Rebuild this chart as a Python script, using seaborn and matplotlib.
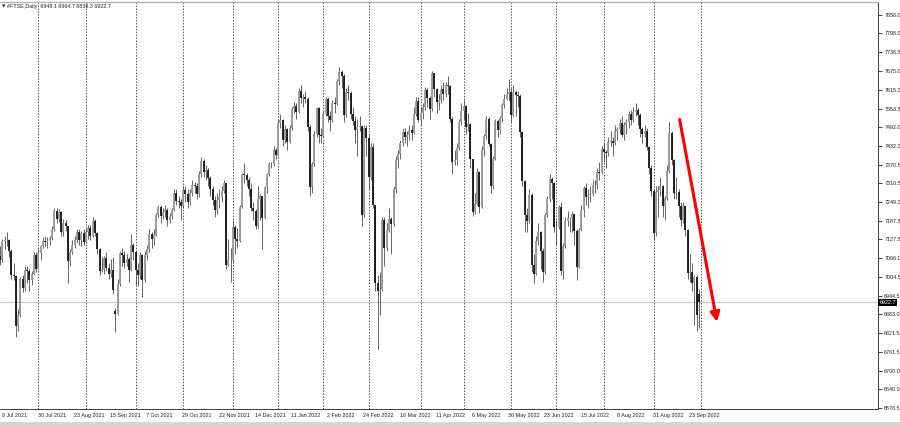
import numpy as np
import pandas as pd
import matplotlib
matplotlib.use("Agg")
import matplotlib.pyplot as plt
import matplotlib.transforms as mtrans
from matplotlib.patches import Rectangle
import seaborn as sns

# #FTSE daily bars, 8 Jul 2021 .. 30 Sep 2022
opens = [
    7075, 7060, 7122, 7125, 7124, 7091, 7012, 7008, 6844, 6881, 7000, 6969, 7028, 7025, 6996, 7016, 7078,
    7032, 7082, 7105, 7123, 7120, 7122, 7132, 7161, 7220, 7193, 7218, 7153, 7181, 7170, 7058, 7087, 7109, 7125, 7150, 7125, 7148,
    7119, 7150, 7164, 7138, 7187, 7149, 7095, 7024, 7029, 7068, 7034, 7016, 7027, 6895, 6885, 6981, 7083, 7078, 7051, 7063, 7028, 7108,
    7086, 7027, 7011, 7077, 6995, 7078, 7095, 7146, 7130, 7141, 7207, 7234, 7203, 7217, 7223, 7190, 7204, 7222, 7277, 7253, 7249,
    7237, 7288, 7274, 7248, 7279, 7304, 7300, 7274, 7340, 7384, 7348, 7352, 7326, 7291, 7255, 7223, 7255, 7266, 7286, 7310, 7044, 7059,
    7059, 7168, 7129, 7122, 7232, 7340, 7337, 7321, 7291, 7231, 7219, 7171, 7260, 7269, 7198, 7297, 7341, 7373, 7372, 7420,
    7403, 7505, 7517, 7450, 7486, 7445, 7491, 7552, 7563, 7543, 7612, 7589, 7590, 7585, 7494, 7297, 7372, 7470, 7554, 7466,
    7464, 7535, 7583, 7529, 7516, 7573, 7567, 7643, 7672, 7661, 7531, 7608, 7603, 7537, 7513, 7484, 7494, 7498, 7207, 7489,
    7458, 7330, 7429, 7238, 6987, 6959, 6964, 7191, 7099, 7156, 7193, 7176, 7291, 7385, 7405, 7442, 7476, 7460, 7467, 7483, 7474, 7537, 7578,
    7516, 7538, 7559, 7613, 7587, 7551, 7669, 7618, 7576, 7580, 7616, 7601, 7629, 7627, 7521, 7380, 7386, 7425, 7509,
    7544, 7561, 7493, 7503, 7388, 7216, 7243, 7348, 7233, 7418, 7464, 7518, 7438, 7302, 7390, 7514, 7484, 7522, 7565, 7585, 7600,
    7607, 7533, 7608, 7599, 7593, 7476, 7317, 7206, 7187, 7273, 7045, 7016, 7121, 7152, 7089, 7020, 7208, 7258, 7323, 7312,
    7169, 7168, 7232, 7025, 7107, 7189, 7196, 7196, 7209, 7156, 7039, 7159, 7223, 7296, 7264, 7271, 7276, 7306, 7306, 7348, 7345,
    7423, 7413, 7409, 7445, 7448, 7440, 7482, 7488, 7507, 7466, 7501, 7510, 7536, 7516, 7542, 7550, 7534, 7488, 7471, 7479, 7427, 7361,
    7284, 7148, 7281, 7287, 7300, 7237, 7262, 7351, 7473, 7385, 7277, 7282, 7237, 7192, 7237, 7159, 7019, 7021, 6984, 7005, 6948.1,
]
highs = [
    7105, 7128, 7140, 7150, 7130, 7095, 7050, 7010, 6900, 7005, 7010, 7040, 7040, 7030, 7025, 7085, 7085,
    7100, 7110, 7135, 7140, 7135, 7140, 7170, 7230, 7230, 7225, 7220, 7195, 7190, 7170, 7095, 7125, 7140, 7160, 7160, 7155, 7160,
    7165, 7175, 7175, 7200, 7195, 7150, 7100, 7070, 7075, 7085, 7050, 7065, 7070, 6905, 7000, 7090, 7100, 7090, 7080, 7070, 7145, 7115,
    7090, 7050, 7085, 7080, 7090, 7110, 7160, 7150, 7160, 7215, 7240, 7240, 7230, 7240, 7230, 7215, 7230, 7290, 7290, 7270, 7260,
    7300, 7300, 7290, 7290, 7320, 7315, 7310, 7350, 7395, 7390, 7370, 7360, 7335, 7300, 7270, 7280, 7290, 7300, 7320, 7310, 7130, 7100,
    7190, 7175, 7165, 7240, 7345, 7375, 7345, 7330, 7310, 7250, 7225, 7300, 7275, 7270, 7300, 7345, 7380, 7380, 7430, 7425,
    7520, 7535, 7520, 7500, 7490, 7500, 7560, 7575, 7570, 7620, 7630, 7600, 7610, 7590, 7500, 7380, 7480, 7560, 7560, 7490,
    7545, 7590, 7590, 7545, 7580, 7590, 7650, 7690, 7680, 7665, 7620, 7630, 7610, 7560, 7530, 7520, 7530, 7500, 7500, 7500,
    7470, 7440, 7440, 7240, 7010, 7020, 7200, 7200, 7180, 7230, 7200, 7300, 7400, 7420, 7450, 7490, 7490, 7480, 7500, 7500, 7560, 7590, 7590,
    7560, 7570, 7625, 7620, 7595, 7675, 7670, 7620, 7600, 7630, 7640, 7640, 7660, 7630, 7525, 7420, 7440, 7520, 7570,
    7580, 7565, 7540, 7505, 7390, 7280, 7360, 7350, 7430, 7470, 7530, 7525, 7440, 7400, 7520, 7520, 7530, 7570, 7600, 7620, 7650,
    7620, 7630, 7615, 7610, 7600, 7480, 7320, 7230, 7290, 7280, 7080, 7140, 7180, 7155, 7100, 7215, 7270, 7340, 7330, 7315,
    7190, 7240, 7250, 7115, 7200, 7220, 7200, 7220, 7210, 7160, 7165, 7240, 7300, 7310, 7290, 7300, 7320, 7320, 7360, 7380, 7430,
    7440, 7420, 7460, 7480, 7460, 7500, 7495, 7520, 7530, 7510, 7520, 7545, 7550, 7560, 7570, 7555, 7540, 7495, 7500, 7490, 7430, 7370,
    7290, 7300, 7300, 7330, 7305, 7270, 7370, 7510, 7480, 7390, 7330, 7290, 7250, 7250, 7240, 7160, 7080, 7050, 7010, 7010, 6964.7,
]
lows = [
    7045, 7055, 7095, 7105, 7070, 7000, 6995, 6810, 6830, 6875, 6955, 6960, 6985, 6960, 6980, 7010, 7020,
    7030, 7060, 7100, 7105, 7100, 7110, 7125, 7155, 7180, 7185, 7140, 7140, 7155, 6985, 7040, 7080, 7100, 7115, 7110, 7105, 7110,
    7115, 7130, 7125, 7135, 7140, 7080, 7010, 7020, 7015, 7025, 7000, 7005, 6950, 6825, 6880, 6975, 7040, 7035, 7040, 6990, 7025, 7060,
    6980, 6975, 7000, 6940, 6990, 7060, 7085, 7100, 7110, 7140, 7200, 7180, 7195, 7200, 7170, 7180, 7195, 7220, 7240, 7230, 7190,
    7230, 7250, 7230, 7240, 7270, 7280, 7260, 7265, 7330, 7330, 7320, 7300, 7270, 7240, 7200, 7210, 7230, 7250, 7280, 7030, 7040, 6990,
    7055, 7080, 7100, 7120, 7230, 7310, 7300, 7270, 7220, 7190, 7160, 7165, 7190, 7095, 7195, 7280, 7335, 7360, 7365, 7390,
    7400, 7490, 7430, 7440, 7420, 7440, 7485, 7540, 7520, 7540, 7570, 7560, 7570, 7480, 7270, 7280, 7365, 7460, 7440, 7440,
    7460, 7530, 7510, 7480, 7510, 7540, 7565, 7630, 7620, 7510, 7525, 7580, 7520, 7500, 7440, 7400, 7480, 7170, 7200, 7400,
    7290, 7320, 7230, 6960, 6770, 6880, 6960, 7040, 7090, 7150, 7080, 7170, 7280, 7360, 7390, 7430, 7440, 7430, 7450, 7450, 7470, 7530, 7510,
    7500, 7520, 7550, 7560, 7520, 7545, 7590, 7540, 7550, 7570, 7580, 7590, 7600, 7510, 7340, 7370, 7370, 7420, 7500,
    7520, 7470, 7480, 7360, 7205, 7210, 7240, 7215, 7230, 7400, 7455, 7430, 7280, 7290, 7385, 7460, 7470, 7510, 7555, 7580, 7580,
    7510, 7530, 7530, 7560, 7460, 7300, 7150, 7150, 7180, 7020, 6985, 7010, 7110, 7030, 6990, 7015, 7200, 7250, 7260, 7150,
    7110, 7160, 7010, 7000, 7100, 7170, 7150, 7150, 7110, 6995, 7035, 7155, 7200, 7240, 7230, 7250, 7270, 7280, 7290, 7320, 7340,
    7380, 7360, 7400, 7430, 7400, 7435, 7450, 7470, 7460, 7450, 7470, 7490, 7500, 7510, 7530, 7500, 7460, 7440, 7460, 7420, 7340, 7270,
    7125, 7140, 7200, 7270, 7200, 7190, 7255, 7345, 7370, 7260, 7260, 7200, 7170, 7180, 7140, 7000, 6990, 6960, 6850, 6830, 6838.3,
]
closes = [
    7060, 7122, 7125, 7124, 7091, 7012, 7008, 6844, 6881, 7000, 6969, 7028, 7025, 6996, 7016, 7078, 7032,
    7082, 7105, 7123, 7120, 7122, 7132, 7161, 7220, 7193, 7218, 7153, 7181, 7170, 7058, 7087, 7109, 7125, 7150, 7125, 7148, 7119,
    7150, 7164, 7138, 7187, 7149, 7095, 7024, 7029, 7068, 7034, 7016, 7027, 6963, 6885, 6981, 7083, 7078, 7051, 7063, 7028, 7108, 7086,
    7027, 7011, 7077, 6995, 7078, 7095, 7146, 7130, 7141, 7207, 7234, 7203, 7217, 7223, 7190, 7204, 7222, 7277, 7253, 7249, 7237,
    7288, 7274, 7248, 7279, 7304, 7300, 7274, 7340, 7384, 7348, 7352, 7326, 7291, 7255, 7223, 7255, 7266, 7286, 7310, 7044, 7059, 7059,
    7168, 7129, 7122, 7232, 7340, 7337, 7321, 7291, 7231, 7219, 7171, 7260, 7269, 7198, 7297, 7341, 7373, 7372, 7420, 7403,
    7505, 7517, 7450, 7486, 7445, 7491, 7552, 7563, 7543, 7612, 7589, 7590, 7585, 7494, 7297, 7372, 7470, 7554, 7466, 7464,
    7535, 7583, 7529, 7516, 7573, 7567, 7643, 7672, 7661, 7531, 7608, 7603, 7537, 7513, 7484, 7494, 7498, 7207, 7489, 7458,
    7330, 7429, 7238, 6987, 6959, 6964, 7191, 7099, 7156, 7193, 7176, 7291, 7385, 7405, 7442, 7476, 7460, 7467, 7483, 7474, 7537, 7578, 7516,
    7538, 7559, 7613, 7587, 7551, 7669, 7618, 7576, 7580, 7616, 7601, 7629, 7627, 7521, 7380, 7386, 7425, 7509, 7544,
    7561, 7493, 7503, 7388, 7216, 7243, 7348, 7233, 7418, 7464, 7518, 7438, 7302, 7390, 7514, 7484, 7522, 7565, 7585, 7600, 7607,
    7533, 7608, 7599, 7593, 7476, 7317, 7206, 7187, 7273, 7045, 7016, 7121, 7152, 7089, 7020, 7208, 7258, 7323, 7312, 7169,
    7168, 7232, 7025, 7107, 7189, 7196, 7196, 7209, 7156, 7039, 7159, 7223, 7296, 7264, 7271, 7276, 7306, 7306, 7348, 7345, 7423,
    7413, 7409, 7445, 7448, 7440, 7482, 7488, 7507, 7466, 7501, 7510, 7536, 7516, 7542, 7550, 7534, 7488, 7471, 7479, 7427, 7361, 7284,
    7148, 7281, 7287, 7300, 7237, 7262, 7351, 7473, 7385, 7277, 7282, 7237, 7192, 7237, 7159, 7019, 7021, 6984, 7005, 6881, 6922.7,
]

# days with no bar in the feed
holidays = ["2021-08-30", "2021-12-27", "2021-12-28", "2021-12-31", "2022-01-03",
            "2022-04-15", "2022-04-18", "2022-05-02", "2022-06-02", "2022-06-03",
            "2022-08-29", "2022-09-19"]

price_ticks = [7858.0, 7798.0, 7736.5, 7675.0, 7615.0, 7553.5, 7492.0, 7432.0, 7370.5,
               7310.5, 7249.0, 7187.5, 7127.5, 7066.0, 7004.5, 6944.5, 6883.0, 6821.5,
               6761.5, 6700.0, 6640.0, 6578.5]
last_price = 6922.7
title = "#FTSE,Daily  6948.1 6964.7 6838.3 6922.7"

# red trend arrow: (bar position, price) start -> end
arrow_start = (299.5, 7518)
arrow_end = (316.0, 6859)


def main():
    dates = pd.bdate_range("2021-07-08", "2022-09-30")
    dates = dates[~dates.isin(pd.to_datetime(holidays))]
    df = pd.DataFrame({"date": dates, "open": opens, "high": highs,
                       "low": lows, "close": closes})
    # first bar (8 Jul) sits just off the left edge
    df["pos"] = np.arange(len(df)) - 1
    df["bull"] = df["close"] >= df["open"]

    sns.set_style("white")
    plt.rcParams["font.family"] = ["Liberation Sans", "DejaVu Sans"]

    fig = plt.figure(figsize=(9, 4.25), dpi=100)
    ax = fig.add_axes([0, 16 / 425, 878 / 900, (425 - 16 - 1.5) / 425])

    # monthly period separators
    month_start = df["date"].dt.month != df["date"].dt.month.shift()
    seps = list(df.loc[month_start, "pos"].iloc[1:]) + [df["pos"].iloc[-1] + 1]
    for p in seps:
        ax.axvline(p, color="#555555", lw=0.7, ls=(0, (1.5, 1.5)), zorder=1)

    ax.axhline(last_price, color="#c8c8c8", lw=0.8, zorder=1)

    # candles
    ax.vlines(df["pos"], df["low"], df["high"], color="#4a4a4a", lw=0.6, zorder=2)
    up = df[df["bull"]]
    dn = df[~df["bull"]]
    ax.vlines(up["pos"], up["open"], up["close"], color="#9a9a9a", lw=1.3, zorder=3)
    ax.vlines(dn["pos"], dn["open"], dn["close"], color="#141414", lw=1.3, zorder=3)

    ax.annotate("", xy=arrow_end, xytext=arrow_start,
                arrowprops=dict(arrowstyle="-|>,head_length=0.55,head_width=0.28",
                                color="#ff0000", lw=2.2, shrinkA=0, shrinkB=0),
                zorder=5)

    ax.set_xlim(-0.44, 387.2)
    ax.set_ylim(6575.3, 7902)

    # price scale on the right
    ax.yaxis.tick_right()
    ax.set_yticks(price_ticks)
    ax.set_yticklabels([f"{v:.1f}" for v in price_ticks])
    ax.tick_params(axis="y", direction="out", length=3, width=0.6, pad=1.5,
                   labelsize=3.9, colors="#222222", left=False)
    ax.text(1.0015, last_price, f"{last_price:.1f}",
            transform=mtrans.blended_transform_factory(ax.transAxes, ax.transData),
            ha="left", va="center", fontsize=3.9, color="white",
            bbox=dict(boxstyle="square,pad=0.2", fc="black", ec="none"), clip_on=False)

    # date labels every 16 bars
    lab = df.iloc[::16]
    ax.set_xticks(lab["pos"])
    ax.set_xticklabels([])
    ax.tick_params(axis="x", direction="out", length=3, width=0.6, colors="#222222")
    off = mtrans.ScaledTranslation(1.5 / 100, -4 / 100, fig.dpi_scale_trans)
    trans = mtrans.blended_transform_factory(ax.transData, ax.transAxes) + off
    for p, d in zip(lab["pos"], lab["date"]):
        ax.text(p, 0, f"{d.day} {d.strftime('%b %Y')}", transform=trans,
                ha="left", va="top", fontsize=3.9, color="#222222", clip_on=False)

    for side in ["left"]:
        ax.spines[side].set_visible(False)
    ax.spines["top"].set_color("#b4b4b4")
    ax.spines["top"].set_linewidth(1.0)
    for side in ["right", "bottom"]:
        ax.spines[side].set_color("#3c3c3c")
        ax.spines[side].set_linewidth(0.7)

    fig.text(2 / 900, 1 - 6.5 / 425, "\u25bc", fontsize=3.2, va="center", ha="left",
             family=["DejaVu Sans"])
    fig.text(7 / 900, 1 - 6.5 / 425, title, fontsize=3.9, va="center", ha="left")

    fig.patches.append(Rectangle((0, 0), 1, 3.5 / 425, transform=fig.transFigure,
                                 fc="#d6d6d6", ec="none"))

    fig.savefig("out.png", dpi=100)
    plt.close(fig)


if __name__ == "__main__":
    main()
